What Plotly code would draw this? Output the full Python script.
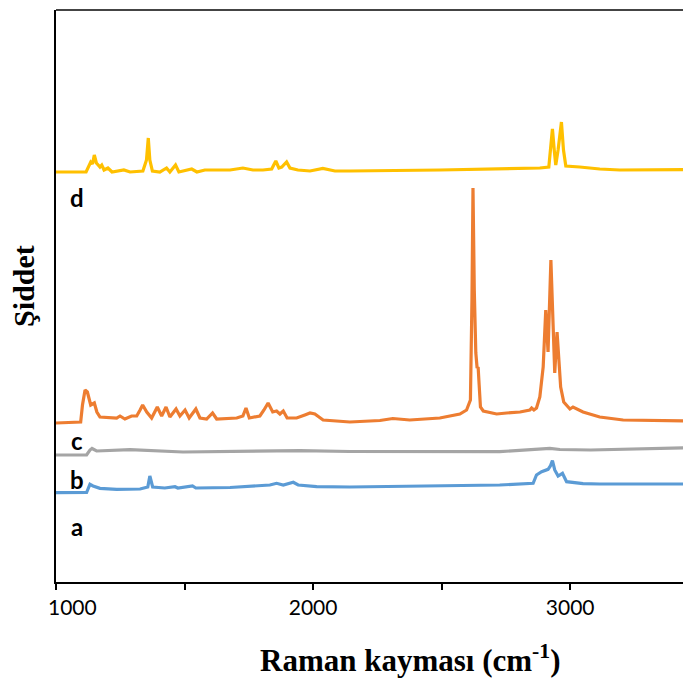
import plotly.graph_objects as go

# ---- data (Raman shift in cm-1, intensity in arbitrary units with vertical offsets) ----
d_x = [1000, 1117, 1135, 1142, 1149, 1157, 1164, 1171, 1178, 1187, 1202, 1218, 1264, 1288,
       1338, 1352, 1359, 1365, 1375, 1404, 1430, 1443, 1465, 1478, 1528, 1548, 1579, 1630,
       1677, 1727, 1766, 1805, 1839, 1855, 1867, 1878, 1897, 1910, 1941, 1988, 2038, 2085,
       2143, 2493, 2882, 2917, 2925, 2931, 2938, 2944, 2953, 2966, 2974, 2983, 3037, 3115,
       3193, 3469]
d_y = [410, 410, 420, 418, 427, 419, 417, 415, 417, 412, 414, 410, 412, 410,
       411, 422, 444, 422, 411, 410, 414, 410, 417, 410, 413, 410, 412, 412,
       412, 414, 412, 412, 413, 421, 414, 415, 420, 414, 412, 411, 413.5, 411,
       411, 412, 414, 415, 437, 453, 432, 417, 432, 460, 432, 416, 415, 413,
       412, 412.5]

orange_x = [1000, 1096, 1103, 1113, 1122, 1128, 1135, 1149, 1159, 1171, 1236, 1249, 1268, 1294,
            1314, 1327, 1337, 1353, 1372, 1394, 1411, 1428, 1443, 1467, 1482, 1502, 1518, 1544,
            1560, 1586, 1609, 1625, 1677, 1703, 1727, 1739, 1752, 1793, 1809, 1825, 1843, 1858,
            1871, 1884, 1899, 1936, 1968, 1988, 2007, 2039, 2143, 2260, 2310, 2376, 2493, 2571,
            2597, 2612, 2618, 2622, 2627, 2633, 2638, 2642, 2646, 2651, 2662, 2714, 2753, 2805,
            2843, 2850, 2859, 2869, 2882, 2895, 2905, 2914, 2925, 2933, 2940, 2949, 2955, 2963,
            2975, 2999, 3011, 3050, 3115, 3206, 3469]
orange_y = [159, 160, 177, 192, 190, 184, 177, 179, 170, 165, 164, 166, 163, 166,
            166, 172, 177, 170, 164, 175, 166, 175, 165, 173, 166, 172, 164, 173,
            164, 163, 169, 163, 164, 164, 166, 174, 164, 166, 172, 179, 170, 171,
            168, 171, 164, 164, 167, 169, 168, 162, 160, 161.5, 163.5, 162, 164, 168,
            172, 182, 282, 394, 292, 229, 214, 215, 197, 175, 171, 168, 169, 170,
            172, 174, 172, 174, 185, 215, 272, 230, 322, 252, 209, 250, 227, 195,
            180, 173, 175, 170, 165, 162, 161]

c_x = [1000, 1119, 1132, 1140, 1158, 1288, 1494, 1754, 1949, 2143, 2493, 2726, 2921, 2960,
       3080, 3469]
c_y = [127, 127, 132, 133.5, 131, 132.3, 130, 131, 131.3, 130.5, 130, 130.3, 133.7, 132.5,
       132, 134.3]

b_x = [1000, 1119, 1132, 1144, 1171, 1236, 1327, 1357, 1365, 1376, 1423, 1463, 1474, 1531,
       1544, 1677, 1832, 1858, 1884, 1923, 1942, 2014, 2143, 2493, 2726, 2856, 2869, 2889,
       2914, 2923, 2931, 2940, 2953, 2970, 2986, 3050, 3115, 3469]
b_y = [89.3, 89.5, 97.7, 96, 93.7, 92.7, 93, 95, 106, 95, 94, 95.3, 94, 96,
       94, 94.5, 97, 98.7, 97, 99.7, 97, 95.3, 95, 96, 97, 98.7, 107, 110.3,
       112.7, 116, 121.3, 112, 106, 108.7, 100.3, 98.3, 98, 98]

series_labels = ["a", "b", "c", "d"]
label_x = [1080, 1080, 1080, 1080]
label_y = [56, 103, 142, 385]

x_tickvals = [1000, 1500, 2000, 2500, 3000]
x_ticktext = ["", "", "2000", "", "3000"]
first_tick_label = "1000"

fig = go.Figure()
fig.add_trace(go.Scatter(x=b_x, y=b_y, mode="lines", line=dict(color="#5B9BD5", width=3.2)))
fig.add_trace(go.Scatter(x=c_x, y=c_y, mode="lines", line=dict(color="#A5A5A5", width=3.2)))
fig.add_trace(go.Scatter(x=orange_x, y=orange_y, mode="lines", line=dict(color="#ED7D31", width=3.2)))
fig.add_trace(go.Scatter(x=d_x, y=d_y, mode="lines", line=dict(color="#FFC000", width=3.2)))

for t, lx, ly in zip(series_labels, label_x, label_y):
    fig.add_annotation(x=lx, y=ly, xref="x", yref="y", text=t, showarrow=False,
                       font=dict(family="Lato", size=24, color="black", weight="bold"))

# first tick label is kept inside the chart area (left-aligned near the axis)
fig.add_annotation(x=1000, y=0, xref="x", yref="paper", xanchor="left", yanchor="top",
                   xshift=-10, yshift=-10, text=first_tick_label, showarrow=False,
                   font=dict(family="Lato", size=21, color="black"))

fig.add_annotation(x=0.559, y=-0.133, xref="paper", yref="paper", yanchor="middle",
                   text="Raman kayması (cm<sup>-1</sup>)", showarrow=False,
                   font=dict(family="Liberation Serif", size=31, color="black", weight="bold"))
fig.add_annotation(x=-0.051, y=0.517, xref="paper", yref="paper", xanchor="center", yanchor="middle",
                   text="Şiddet", textangle=-90, showarrow=False,
                   font=dict(family="Liberation Serif", size=30, color="black", weight="bold"))

fig.add_shape(type="line", xref="paper", yref="paper", x0=0, x1=1, y0=1, y1=1,
              line=dict(color="#444444", width=2))

# page body has an 8px default margin, so the figure is sized/offset to compensate
fig.update_layout(
    width=691, height=673,
    margin=dict(l=48, r=8, t=2, b=99),
    plot_bgcolor="white", paper_bgcolor="white",
    showlegend=False,
    xaxis=dict(range=[1000, 3470], tickvals=x_tickvals, ticktext=x_ticktext,
               showgrid=False, zeroline=False, showline=True, linecolor="black", linewidth=2,
               ticks="outside", ticklen=6, tickwidth=2, tickcolor="black",
               tickfont=dict(family="Lato", size=21, color="black")),
    yaxis=dict(range=[0, 572], showgrid=False, zeroline=False, showline=True,
               linecolor="black", linewidth=2, showticklabels=False, ticks=""),
)

fig.write_html("out.html")
